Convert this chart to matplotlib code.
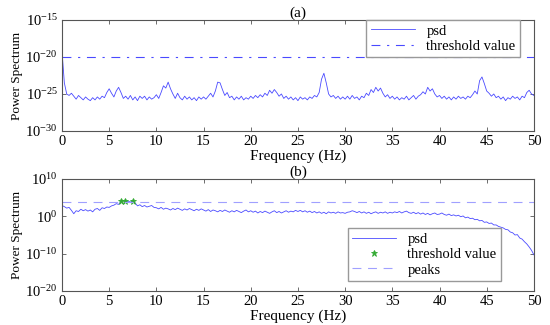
import numpy as np
import matplotlib
matplotlib.use('Agg')
import matplotlib.pyplot as plt
from matplotlib.ticker import LogFormatterSciNotation, NullLocator

plt.rcParams['font.family'] = ['Liberation Serif', 'DejaVu Serif']
plt.rcParams['mathtext.fontset'] = 'custom'
plt.rcParams['mathtext.rm'] = 'Liberation Serif'
plt.rcParams['mathtext.it'] = 'Liberation Serif:italic'

# frequency axis, 0.25 Hz steps (0..50 Hz)
freq = np.arange(201) * 0.25

# (a) log10 of psd
psd_a_log = [
    -19.2, -23.5, -25.0, -25.2, -24.9, -25.3, -25.7, -25.2, -25.5, -25.8,
    -25.4, -25.7, -25.9, -25.5, -25.8, -25.4, -25.7, -25.3, -25.5, -24.8,
    -24.3, -24.9, -25.4, -24.6, -24.1, -24.8, -25.6, -25.3, -25.7, -25.2,
    -25.8, -25.4, -25.9, -25.3, -25.6, -25.3, -25.8, -25.4, -25.7, -25.5,
    -25.1, -25.6, -24.8, -23.9, -24.2, -23.4, -24.3, -25.0, -25.6, -24.9,
    -25.5, -25.8, -25.3, -25.7, -25.4, -25.8, -25.5, -25.9, -25.4, -25.7,
    -25.4, -25.7, -25.3, -24.9, -25.4, -24.6, -23.4, -23.5, -24.4, -25.2,
    -24.8, -25.5, -25.3, -25.8, -25.4, -25.7, -25.3, -25.8, -25.5, -25.7,
    -25.3, -25.6, -25.2, -25.5, -25.1, -25.4, -24.9, -25.2, -24.5, -24.9,
    -24.4, -24.8, -25.3, -25.0, -25.6, -25.3, -25.7, -25.4, -25.8, -25.5,
    -25.9, -25.4, -25.7, -25.5, -25.8, -25.4, -25.6, -25.2, -25.4, -24.8,
    -23.0, -22.2, -23.5, -25.0, -25.4, -25.2, -25.6, -25.3, -25.7, -25.4,
    -25.7, -25.3, -25.7, -25.2, -25.6, -25.4, -25.8, -25.3, -25.5, -24.9,
    -25.2, -24.4, -24.8, -24.1, -24.6, -24.2, -24.9, -25.4, -25.1, -25.6,
    -25.3, -25.7, -25.4, -25.8, -25.5, -25.7, -25.3, -25.8, -25.5, -25.2,
    -25.7, -25.3, -25.1, -24.7, -25.0, -24.1, -24.6, -24.3, -25.0, -25.4,
    -25.2, -25.6, -25.3, -25.7, -25.4, -25.8, -25.4, -25.7, -25.3, -25.6,
    -25.4, -25.7, -25.3, -25.5, -25.1, -24.6, -25.0, -23.2, -22.7, -23.6,
    -24.6, -24.9, -25.3, -25.0, -25.5, -25.3, -25.7, -25.4, -25.9, -25.5,
    -25.7, -25.3, -25.6, -25.4, -25.8, -25.3, -25.5, -24.8, -24.5, -25.0,
    -25.2,
]
thresh_a = 1e-20

# (b) log10 of psd
psd_b_log = [
    2.9, 2.6, 2.2, 2.4, 1.6, 0.7, 1.5, 1.3, 1.9, 1.5,
    1.8, 1.4, 1.7, 1.2, 1.9, 2.1, 1.6, 2.3, 2.1, 2.5,
    2.4, 2.8, 3.0, 3.4, 3.2, 4.0, 4.2, 3.9, 4.1, 3.8,
    4.2, 3.6, 2.8, 3.1, 2.6, 2.9, 2.5, 2.7, 2.9, 2.4,
    2.3, 2.0, 2.4, 1.9, 2.2, 2.0, 1.7, 2.1, 1.8, 2.2,
    1.9, 1.6, 2.0, 1.7, 2.1, 1.8, 1.5, 1.9, 1.6, 2.0,
    1.7, 1.4, 1.8, 1.3, 1.7, 1.5, 1.2, 1.6, 1.3, 1.7,
    1.4, 1.1, 1.5, 1.2, 1.6, 1.3, 1.0, 1.4, 1.7, 1.2,
    1.5, 1.1, 1.4, 0.9, 1.3, 1.0, 1.4, 1.1, 0.8, 1.2,
    1.5, 1.0, 1.3, 0.9, 1.2, 1.5, 1.1, 1.4, 1.2, 1.6,
    1.3, 1.6, 1.2, 1.5, 1.1, 1.4, 1.0, 1.3, 0.9, 1.2,
    0.8, 1.1, 0.7, 1.2, 0.9, 1.1, 0.8, 1.2, 0.9, 1.0,
    0.8, 1.1, 1.2, 1.5, 1.3, 1.0, 1.3, 0.9, 1.2, 0.8,
    1.1, 0.7, 1.0, 1.2, 0.8, 1.1, 0.9, 1.2, 0.8, 1.1,
    0.9, 1.2, 1.0, 1.3, 0.9, 1.2, 1.4, 1.0, 0.8, 1.1,
    0.7, 1.0, 0.6, 0.9, 0.5, 0.8, 0.4, 0.7, 0.9, 0.5,
    0.6, 0.9, 0.5, 0.3, 0.6, 0.2, 0.4, 0.1, 0.3, -0.1,
    0.1, -0.4, -0.2, -0.6, -0.5, -0.9, -0.8, -1.2, -1.1, -1.6,
    -1.5, -1.9, -1.8, -2.3, -2.3, -2.7, -2.9, -3.1, -3.5, -3.6,
    -4.2, -4.4, -5.0, -4.9, -5.8, -6.1, -6.8, -7.4, -8.2, -9.1,
    -10.3,
]
thresh_b = 10 ** 3.75
peak_f = [6.2, 6.7, 7.5]
peak_log = [4.2, 4.1, 4.2]

psd_a = 10.0 ** np.array(psd_a_log)
psd_b = 10.0 ** np.array(psd_b_log)
peak_v = 10.0 ** np.array(peak_log)

fig = plt.figure(figsize=(5.5, 3.25), dpi=100)
ax1 = fig.add_axes([0.1127, 0.597, 0.858, 0.3415])
ax2 = fig.add_axes([0.1127, 0.1046, 0.858, 0.3446])

blue = '#4a4aff'
frame = '#555555'

def style(ax, yt):
    ax.set_yscale('log')
    ax.set_xlim(0, 50)
    ax.set_ylim(yt[0], yt[-1])
    ax.set_yticks(yt)
    ax.yaxis.set_major_formatter(LogFormatterSciNotation())
    ax.yaxis.set_minor_locator(NullLocator())
    ax.set_xticks(np.arange(0, 51, 5))
    ax.tick_params(direction='in', top=True, right=True, labelsize=10.5,
                   length=3, width=0.6, color=frame, pad=3)
    for s in ax.spines.values():
        s.set_color(frame)
        s.set_linewidth(0.8)
    ax.set_xlabel('Frequency (Hz)', fontsize=11, labelpad=1)
    ax.set_ylabel('Power Spectrum', fontsize=9.5, labelpad=2)

# (a)
ax1.plot(freq, psd_a, color=blue, lw=0.6, label='psd')
ax1.axhline(thresh_a, color=blue, lw=0.8, ls=(0, (8, 6, 2, 6)), label='threshold value')
style(ax1, [1e-30, 1e-25, 1e-20, 1e-15])
ax1.set_title('(a)', fontsize=11, pad=2)
ax1.legend(loc='upper right', fontsize=10.5, fancybox=False, edgecolor='#999999',
           framealpha=1, handlelength=3, borderaxespad=0.0,
           bbox_to_anchor=(0.97, 1.0), borderpad=0.3, labelspacing=0.15)

# (b)
ax2.plot(freq, psd_b, color=blue, lw=0.6, label='psd')
ax2.plot(peak_f, peak_v, ls='none', marker='*', color='#33aa33', ms=5, mew=0.6,
         label='threshold value')
ax2.axhline(thresh_b, color='#a0a0ff', lw=0.8, ls=(0, (8, 6)), label='peaks')
style(ax2, [1e-20, 1e-10, 1e0, 1e10])
ax2.set_title('(b)', fontsize=11, pad=2)
ax2.legend(loc='lower right', fontsize=10.5, fancybox=False, edgecolor='#999999',
           framealpha=1, handlelength=3, borderaxespad=0.0,
           bbox_to_anchor=(0.93, 0.09), borderpad=0.3, labelspacing=0.15)

fig.savefig('out.png', dpi=100)
